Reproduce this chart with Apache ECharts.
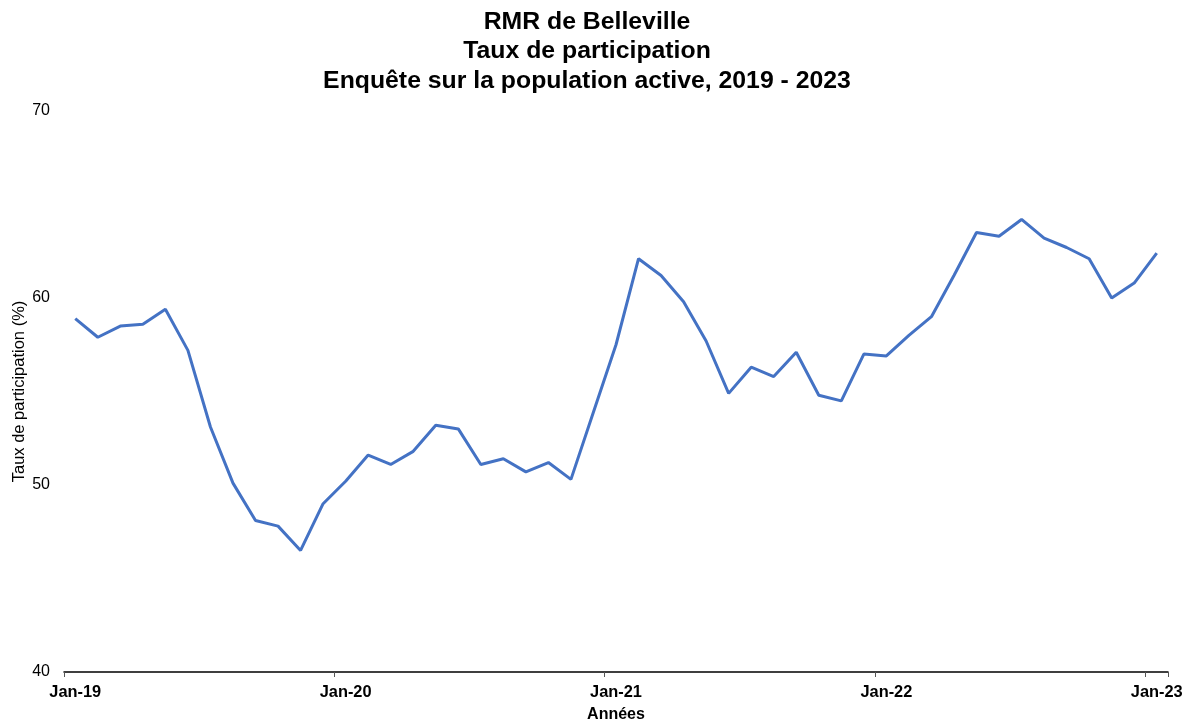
<!DOCTYPE html>
<html>
<head>
<meta charset="utf-8">
<script src="https://cdn.jsdelivr.net/npm/echarts@6/dist/echarts.min.js"></script>
<style>
  html, body { margin: 0; padding: 0; background: #fff; }
  #chart { width: 1188px; height: 721px; }
</style>
</head>
<body>
<div id="chart"></div>
<script>
// Monthly periods, January 2019 to January 2023
const months = [
  'Jan-19','Feb-19','Mar-19','Apr-19','May-19','Jun-19','Jul-19','Aug-19','Sep-19','Oct-19','Nov-19','Dec-19',
  'Jan-20','Feb-20','Mar-20','Apr-20','May-20','Jun-20','Jul-20','Aug-20','Sep-20','Oct-20','Nov-20','Dec-20',
  'Jan-21','Feb-21','Mar-21','Apr-21','May-21','Jun-21','Jul-21','Aug-21','Sep-21','Oct-21','Nov-21','Dec-21',
  'Jan-22','Feb-22','Mar-22','Apr-22','May-22','Jun-22','Jul-22','Aug-22','Sep-22','Oct-22','Nov-22','Dec-22',
  'Jan-23'
];

// Participation rate (%)
const participationRate = [
  58.9, 57.9, 58.5, 58.6, 59.4, 57.2, 53.1, 50.1, 48.1, 47.8, 46.5, 49.0,
  50.2, 51.6, 51.1, 51.8, 53.2, 53.0, 51.1, 51.4, 50.7, 51.2, 50.3, 53.9,
  57.5, 62.1, 61.2, 59.8, 57.7, 54.9, 56.3, 55.8, 57.1, 54.8, 54.5, 57.0,
  56.9, 58.0, 59.0, 61.2, 63.5, 63.3, 64.2, 63.2, 62.7, 62.1, 60.0, 60.8,
  62.4
];

const yTicks = { min: 40, max: 70, step: 10 };

const FONT = 'Liberation Sans, Arial, sans-serif';
const chart = echarts.init(document.getElementById('chart'), null, { renderer: 'canvas' });

chart.setOption({
  backgroundColor: '#ffffff',
  animation: false,
  textStyle: { fontFamily: FONT },
  title: {
    text: 'RMR de Belleville\nTaux de participation\nEnquête sur la population active, 2019 - 2023',
    left: 587,
    top: 5,
    textAlign: 'center',
    padding: [2, 0, 2, 0],
    textStyle: {
      fontSize: 24.8,
      fontWeight: 'bold',
      color: '#000',
      lineHeight: 29.5,
      fontFamily: FONT
    }
  },
  grid: { left: 64, right: 20, top: 111, bottom: 49, outerBoundsMode: 'none' },
  xAxis: {
    type: 'category',
    data: months,
    boundaryGap: true,
    name: 'Années',
    nameLocation: 'middle',
    nameGap: 35,
    nameMoveOverlap: false,
    nameTextStyle: { fontSize: 16, fontWeight: 'bold', color: '#000', fontFamily: FONT },
    axisLine: { show: true, lineStyle: { color: '#000', width: 1.5 } },
    axisTick: { show: true, interval: 11, length: 5, lineStyle: { color: '#555' } },
    axisLabel: { interval: 11, fontSize: 16.4, fontWeight: 'bold', color: '#000', margin: 12, fontFamily: FONT },
    splitLine: { show: false }
  },
  yAxis: {
    type: 'value',
    min: yTicks.min,
    max: yTicks.max,
    interval: yTicks.step,
    name: 'Taux de participation (%)',
    nameLocation: 'middle',
    nameGap: 36,
    nameMoveOverlap: false,
    nameTextStyle: { fontSize: 16.5, color: '#000', fontFamily: FONT },
    axisLine: { show: false },
    axisTick: { show: false },
    axisLabel: { fontSize: 16, color: '#000', margin: 14, fontFamily: FONT },
    splitLine: { show: false }
  },
  series: [{
    name: 'Taux de participation',
    type: 'line',
    data: participationRate,
    showSymbol: false,
    symbol: 'none',
    lineStyle: { color: '#4472C4', width: 3 },
    itemStyle: { color: '#4472C4' }
  }]
});
</script>
</body>
</html>
